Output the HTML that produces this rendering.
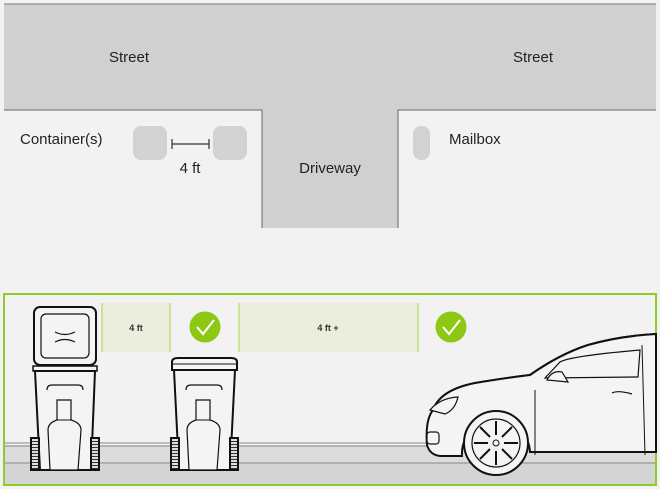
<!DOCTYPE html>
<html><head><meta charset="utf-8"><style>
html,body{margin:0;padding:0;background:#f2f2f2;}
svg{display:block;font-family:"Liberation Sans",sans-serif;}
</style></head><body>
<svg width="660" height="489" viewBox="0 0 660 489" xmlns="http://www.w3.org/2000/svg">
<defs>
<pattern id="h" width="8" height="3" patternUnits="userSpaceOnUse">
<rect width="8" height="3" fill="#ddd"/><rect width="8" height="1" fill="#333"/>
</pattern>
</defs>
<rect width="660" height="489" fill="#f2f2f2"/>
<!-- street -->
<path d="M4 4 H656 V110 H398 V228 H262 V110 H4 Z" fill="#d0d0d0"/>
<path d="M4 4 H656" stroke="#777" stroke-width="1"/>
<path d="M4 110 H262 V228 M398 228 V110 H656" stroke="#666" stroke-width="1" fill="none"/>
<text x="129" y="62" font-size="15" text-anchor="middle" fill="#222">Street</text>
<text x="533" y="62" font-size="15" text-anchor="middle" fill="#222">Street</text>
<text x="330" y="173" font-size="15" text-anchor="middle" fill="#222">Driveway</text>
<text x="20" y="144" font-size="15" fill="#222">Container(s)</text>
<rect x="133" y="126" width="34" height="34" rx="8" fill="#d2d2d2"/>
<rect x="213" y="126" width="34" height="34" rx="8" fill="#d2d2d2"/>
<path d="M172 139 V149 M172 144 H209 M209 139 V149" stroke="#333" stroke-width="1.2"/>
<text x="190" y="173" font-size="15" text-anchor="middle" fill="#222">4 ft</text>
<rect x="413" y="126" width="17" height="34" rx="8" fill="#d2d2d2"/>
<text x="449" y="144" font-size="15" fill="#222">Mailbox</text>
<!-- bottom panel -->
<rect x="4" y="294" width="652" height="191" fill="#f2f2f2" stroke="#8fcc2a" stroke-width="2"/>
<rect x="5" y="445" width="650" height="18" fill="#dcdcdc"/>
<rect x="5" y="463" width="650" height="21" fill="#d4d4d4"/>
<path d="M5 443 H655 M5 446 H655 M5 463 H655" stroke="#888" stroke-width="1"/>
<!-- label boxes -->
<rect x="102" y="303" width="68" height="49" fill="#ebeedc"/>
<path d="M102 303 V352 M170 303 V352" stroke="#bde07a" stroke-width="1.5"/>
<text x="136" y="331" font-size="9" font-weight="bold" text-anchor="middle" fill="#333">4 ft</text>
<rect x="239" y="303" width="179" height="49" fill="#ebeedc"/>
<path d="M239 303 V352 M418 303 V352" stroke="#bde07a" stroke-width="1.5"/>
<text x="328" y="331" font-size="9" font-weight="bold" text-anchor="middle" fill="#333">4 ft +</text>
<circle cx="205" cy="327" r="15.5" fill="#8cc814"/>
<path d="M197 327 L203 334 L214 320" stroke="#fff" stroke-width="2" fill="none"/>
<circle cx="451" cy="327" r="15.5" fill="#8cc814"/>
<path d="M443 327 L449 334 L460 320" stroke="#fff" stroke-width="2" fill="none"/>
<!-- bin 1 -->
<g stroke="#111" fill="#f4f4f4">
<rect x="34" y="307" width="62" height="58" rx="6" stroke-width="2"/>
<rect x="41" y="314" width="48" height="44" rx="5" stroke-width="1.2"/>
<path d="M55 332 Q65 337 75 332 M55 342 Q65 337 75 342" fill="none" stroke-width="1.2"/>
<rect x="33" y="366" width="64" height="5" stroke-width="1.5"/>
<path d="M35 371 L40 470 H91 L95 371 Z" stroke-width="2"/>
<path d="M47 390 Q47 385 52 385 H78 Q83 385 83 390" fill="none" stroke-width="1.2"/>
<path d="M57 400 H71 V420 Q81 423 81 430 L78 470 H50 L48 430 Q48 423 57 420 Z" stroke-width="1.2"/>
<path d="M57 420 H71" stroke-width="1"/>
<rect x="31" y="438" width="8" height="32" fill="url(#h)" stroke-width="2"/>
<rect x="91" y="438" width="8" height="32" fill="url(#h)" stroke-width="2"/>
</g>
<!-- bin 2 -->
<g stroke="#111" fill="#f4f4f4">
<path d="M172 370 V362 Q172 358 178 358 H231 Q237 358 237 362 V370 Z" stroke-width="2"/>
<path d="M173 364 H236" stroke-width="1"/>
<path d="M174 370 L179 470 H230 L235 370 Z" stroke-width="2"/>
<path d="M186 390 Q186 385 191 385 H217 Q222 385 222 390" fill="none" stroke-width="1.2"/>
<path d="M196 400 H210 V420 Q220 423 220 430 L217 470 H189 L187 430 Q187 423 196 420 Z" stroke-width="1.2"/>
<path d="M196 420 H210" stroke-width="1"/>
<rect x="171" y="438" width="8" height="32" fill="url(#h)" stroke-width="2"/>
<rect x="230" y="438" width="8" height="32" fill="url(#h)" stroke-width="2"/>
</g>
<!-- car -->
<g stroke="#111" fill="#f4f4f4">
<path d="M656 334 Q620 336 588 345 Q560 354 530 375 Q505 378 475 383 Q440 390 433 410 Q425420 427 445 Q430 455 440 456 L462 456 A34 34 0 0 1 530 452 L656 452 Z" stroke-width="2"/>
<path d="M656 334 Q620 336 588 345 Q560 354 530 375 Q505 378 475 383 Q440 390 433 410 Q425 420 427 445 Q430 455 440 456 L462 456 A34 34 0 0 1 530 452 L656 452 Z" stroke-width="2"/>
<path d="M545 378 L560 362 Q570 356 640 350 L638 377 Z" fill="#f4f4f4" stroke-width="1.2"/>
<path d="M547 380 Q552 370 562 372 L568 382 Z" stroke-width="1.2"/>
<path d="M535 390 L535 455 M642 345 L645 455" fill="none" stroke-width="1"/>
<path d="M430 410 Q440 398 458 397 Q455 410 445 414 Z" stroke-width="1.2"/>
<path d="M612 393 Q618 390 632 394" fill="none" stroke-width="1.2"/>
<rect x="427" y="432" width="12" height="12" rx="3" stroke-width="1.2"/>
<circle cx="496" cy="443" r="32" stroke-width="2"/>
<circle cx="496" cy="443" r="24" stroke-width="1.2"/>
<circle cx="496" cy="443" r="3" stroke-width="1"/>
<path d="M496 421 V435 M496 451 V465 M474 443 H488 M504 443 H518 M480 427 L490 437 M502 449 L512 459 M512 427 L502 437 M490 449 L480 459" stroke-width="2"/>
</g>
</svg>
</body></html>
